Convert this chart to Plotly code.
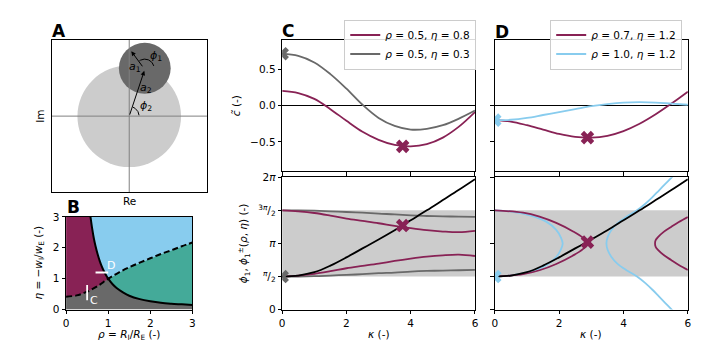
import numpy as np
import plotly.graph_objects as go

W, H = 706, 353
FONT = 'DejaVu Sans'

PURPLE = '#882255'
GREY = '#696969'
LIGHTBLUE = '#88CCEE'
TEAL = '#44AA99'
BAND = '#cccccc'

# ---- panel A: schematic in the complex plane ----
light_circle = dict(cx=0.0, cy=0.0, r=2.0)
dark_circle = dict(cx=0.6, cy=1.88, r=1.0)
a2_arrow = dict(tail=(0.0, 0.0), head=(0.58, 1.78))
a1_arrow = dict(tail=(0.55, 1.90), head=(0.08, 2.55))
phi2_arc = dict(cx=0.0, cy=0.0, r=0.38, start=5, end=68)
phi1_arc = dict(cx=0.6, cy=1.88, r=0.36, start=15, end=125)

# ---- panel B: phase diagram ----
rho_solid = [0.58, 0.62, 0.66, 0.70, 0.75, 0.80, 0.85, 0.90, 0.95, 1.00, 1.10, 1.20, 1.35,
             1.50, 1.75, 2.00, 2.25, 2.50, 2.75, 3.00]
eta_solid = [3.00, 2.62, 2.30, 2.05, 1.79, 1.57, 1.39, 1.24, 1.11, 1.00, 0.83, 0.70, 0.56,
             0.45, 0.34, 0.27, 0.22, 0.19, 0.17, 0.15]
rho_dash = [0.00, 0.25, 0.50, 0.75, 1.00, 1.25, 1.50, 1.75, 2.00, 2.25, 2.50, 2.75, 3.00]
eta_dash = [0.42, 0.46, 0.58, 0.76, 1.00, 1.20, 1.37, 1.52, 1.66, 1.80, 1.92, 2.05, 2.17]
mark_c_rho, mark_c_eta = [0.5, 0.5], [0.3, 0.8]
mark_d_rho, mark_d_eta = [0.7, 1.0], [1.2, 1.2]

# ---- panels C, D: kappa grid ----
kappa = [0, 0.5, 1, 1.5, 2, 2.5, 3, 3.5, 4, 4.5, 5, 5.5, 6]

# c~(kappa)
c_C_purple = [0.20, 0.17, 0.09, -0.05, -0.21, -0.36, -0.47, -0.54, -0.56, -0.53, -0.44, -0.29, -0.09]
c_C_grey = [0.71, 0.68, 0.59, 0.43, 0.23, 0.01, -0.17, -0.28, -0.33, -0.32, -0.27, -0.18, -0.07]
c_D_purple = [-0.20, -0.22, -0.27, -0.33, -0.39, -0.43, -0.44, -0.415, -0.35, -0.25, -0.12, 0.03, 0.19]
c_D_blue = [-0.20, -0.195, -0.17, -0.13, -0.09, -0.05, -0.01, 0.02, 0.04, 0.045, 0.04, 0.025, 0.01]

# phases, in units of pi
phi1_line = [0.5, 0.515, 0.565, 0.665, 0.79, 0.925, 1.06, 1.2, 1.35, 1.5, 1.655, 1.81, 1.97]
phi_C_purple_up = [1.5, 1.485, 1.46, 1.42, 1.375, 1.34, 1.305, 1.265, 1.23, 1.2, 1.18, 1.17, 1.19]
phi_C_purple_lo = [0.5, 0.515, 0.54, 0.58, 0.625, 0.66, 0.695, 0.735, 0.77, 0.8, 0.82, 0.83, 0.81]
phi_C_grey_up = [1.5, 1.5, 1.495, 1.485, 1.475, 1.465, 1.45, 1.44, 1.425, 1.415, 1.41, 1.405, 1.4]
phi_C_grey_lo = [0.5, 0.5, 0.505, 0.515, 0.525, 0.535, 0.55, 0.56, 0.575, 0.585, 0.59, 0.595, 0.6]

kap_D_blue1 = [0, 0.47, 1.09, 1.6, 1.91, 2.06, 2.11, 2.06, 1.91, 1.6, 1.09, 0.47, 0]
phi_D_blue1 = [1.5, 1.485, 1.425, 1.33, 1.205, 1.085, 1.0, 0.915, 0.795, 0.67, 0.575, 0.515, 0.5]
kap_D_blue2 = [5.55, 5.5, 5.3, 5.1, 4.9, 4.68, 4.42, 4.08, 3.80, 3.62, 3.51, 3.47,
               3.51, 3.62, 3.80, 4.08, 4.42, 4.68, 4.9, 5.1, 5.3, 5.5, 5.55]
phi_D_blue2 = [2.025, 2.0, 1.9, 1.8, 1.7, 1.6, 1.5, 1.4, 1.3, 1.2, 1.1, 1.0,
               0.9, 0.8, 0.7, 0.6, 0.5, 0.4, 0.3, 0.2, 0.1, 0.0, -0.025]
kap_D_purple1 = [0, 0.88, 1.39, 1.91, 2.42, 2.73, 2.9, 2.73, 2.42, 1.91, 1.39, 0.88, 0]
phi_D_purple1 = [1.5, 1.465, 1.405, 1.31, 1.185, 1.09, 1.0, 0.91, 0.815, 0.69, 0.595, 0.535, 0.5]
kap_D_purple2 = [6.0, 5.72, 5.48, 5.25, 5.08, 5.0, 4.98, 5.0, 5.08, 5.25, 5.48, 5.72, 6.0]
phi_D_purple2 = [1.4, 1.325, 1.25, 1.175, 1.1, 1.05, 1.0, 0.95, 0.9, 0.825, 0.75, 0.675, 0.6]

band = [0.5, 1.5]  # grey band, units of pi

# marked points (kappa, c~, phi/pi)
pt_C_purple = (3.75, -0.56, 1.27)
pt_C_grey = (0.0, 0.71, 0.5)
pt_D_purple = (2.88, -0.44, 1.02)
pt_D_blue = (0.0, -0.20, 0.5)

PI = np.pi


def X(v):
    return v / W


def Y(v):
    return 1 - v / H


fig = go.Figure()


def line(x, y, color, xa, ya, width=1.8, name=None, legend=None, dash=None, shape='spline'):
    fig.add_trace(go.Scatter(
        x=x, y=y, mode='lines', xaxis=xa, yaxis=ya,
        line=dict(color=color, width=width, dash=dash, shape=shape),
        name=name, showlegend=name is not None, legend=legend or 'legend',
        hoverinfo='skip'))


def marker(x, y, color, xa, ya):
    fig.add_trace(go.Scatter(
        x=[x], y=[y], mode='markers', xaxis=xa, yaxis=ya, showlegend=False,
        marker=dict(symbol='x', size=12, color=color, line_width=0), hoverinfo='skip'))


# ---- A ----
shapes = []
for c, col in [(light_circle, BAND), (dark_circle, GREY)]:
    shapes.append(dict(type='circle', xref='x', yref='y', layer='below',
                       x0=c['cx'] - c['r'], x1=c['cx'] + c['r'],
                       y0=c['cy'] - c['r'], y1=c['cy'] + c['r'],
                       fillcolor=col, line_width=0))
line([0, 0], [-3, 3], 'grey', 'x', 'y', width=1, shape='linear')
line([-3, 3], [0, 0], 'grey', 'x', 'y', width=1, shape='linear')
for arc in (phi2_arc, phi1_arc):
    t = np.radians(np.linspace(arc['start'], arc['end'], 30))
    line(arc['cx'] + arc['r'] * np.cos(t), arc['cy'] + arc['r'] * np.sin(t),
         'black', 'x', 'y', width=1, shape='linear')

annotations = []
for arr in (a2_arrow, a1_arrow):
    annotations.append(dict(xref='x', yref='y', axref='x', ayref='y',
                            x=arr['head'][0], y=arr['head'][1],
                            ax=arr['tail'][0], ay=arr['tail'][1],
                            text='', showarrow=True, arrowhead=2, arrowsize=0.9,
                            arrowwidth=1, arrowcolor='black'))
for txt, xx, yy in [('<i>a</i><sub>1</sub>', 0.22, 1.95), ('<i>a</i><sub>2</sub>', 0.64, 1.09),
                    ('<i>ϕ</i><sub>1</sub>', 1.05, 2.38), ('<i>ϕ</i><sub>2</sub>', 0.64, 0.39)]:
    annotations.append(dict(xref='x', yref='y', x=xx, y=yy, text=txt, showarrow=False,
                            font=dict(size=11, color='black')))

# ---- B ----
rs, es = np.array(rho_solid), np.array(eta_solid)
rd, ed = np.array(rho_dash), np.array(eta_dash)
sl, sr = rs <= 1, rs >= 1
dl, dr = rd <= 1, rd >= 1
regions = [
    (GREY, [0, *rd[dl], *rs[sr][1:], 3], [0, *ed[dl], *es[sr][1:], 0]),
    (PURPLE, [*rd[dl], *rs[sl][::-1][1:], 0], [*ed[dl], *es[sl][::-1][1:], 3]),
    (TEAL, [*rs[sr], *rd[dr][::-1][:-1]], [*es[sr], *ed[dr][::-1][:-1]]),
    (LIGHTBLUE, [*rs[sl], *rd[dr][1:], 3], [*es[sl], *ed[dr][1:], 3]),
]
for col, xs, ys in regions:
    fig.add_trace(go.Scatter(x=xs, y=ys, mode='lines', fill='toself', fillcolor=col,
                             line=dict(width=0.5, color=col), xaxis='x2', yaxis='y2',
                             showlegend=False, hoverinfo='skip'))
line(rho_solid, eta_solid, 'black', 'x2', 'y2', width=2)
line(rho_dash, eta_dash, 'black', 'x2', 'y2', width=2, dash='6px,3px')
line(mark_c_rho, mark_c_eta, 'white', 'x2', 'y2', width=1.8, shape='linear')
line(mark_d_rho, mark_d_eta, 'white', 'x2', 'y2', width=1.8, shape='linear')
annotations += [
    dict(xref='x2', yref='y2', x=0.665, y=0.3, text='C', showarrow=False,
         font=dict(size=11, color='white')),
    dict(xref='x2', yref='y2', x=1.06, y=1.43, text='D', showarrow=False,
         font=dict(size=11, color='white')),
]

# ---- C ----
line(kappa, c_C_purple, PURPLE, 'x3', 'y3', name='<i>ρ</i> = 0.5, <i>η</i> = 0.8')
line(kappa, c_C_grey, GREY, 'x3', 'y3', name='<i>ρ</i> = 0.5, <i>η</i> = 0.3')
marker(pt_C_purple[0], pt_C_purple[1], PURPLE, 'x3', 'y3')
marker(pt_C_grey[0], pt_C_grey[1], GREY, 'x3', 'y3')

line(kappa, np.array(phi_C_grey_up) * PI, GREY, 'x4', 'y4')
line(kappa, np.array(phi_C_grey_lo) * PI, GREY, 'x4', 'y4')
line(kappa, np.array(phi_C_purple_up) * PI, PURPLE, 'x4', 'y4')
line(kappa, np.array(phi_C_purple_lo) * PI, PURPLE, 'x4', 'y4')
line(kappa, np.array(phi1_line) * PI, 'black', 'x4', 'y4')
marker(pt_C_purple[0], pt_C_purple[2] * PI, PURPLE, 'x4', 'y4')
marker(pt_C_grey[0], pt_C_grey[2] * PI, GREY, 'x4', 'y4')

# ---- D ----
line(kappa, c_D_purple, PURPLE, 'x5', 'y5', name='<i>ρ</i> = 0.7, <i>η</i> = 1.2', legend='legend2')
line(kappa, c_D_blue, LIGHTBLUE, 'x5', 'y5', name='<i>ρ</i> = 1.0, <i>η</i> = 1.2', legend='legend2')
marker(pt_D_purple[0], pt_D_purple[1], PURPLE, 'x5', 'y5')
marker(pt_D_blue[0], pt_D_blue[1], LIGHTBLUE, 'x5', 'y5')

line(kap_D_blue1, np.array(phi_D_blue1) * PI, LIGHTBLUE, 'x6', 'y6')
line(kap_D_blue2, np.array(phi_D_blue2) * PI, LIGHTBLUE, 'x6', 'y6')
line(kap_D_purple1, np.array(phi_D_purple1) * PI, PURPLE, 'x6', 'y6')
line(kap_D_purple2, np.array(phi_D_purple2) * PI, PURPLE, 'x6', 'y6')
line(kappa, np.array(phi1_line) * PI, 'black', 'x6', 'y6')
marker(pt_D_purple[0], pt_D_purple[2] * PI, PURPLE, 'x6', 'y6')
marker(pt_D_blue[0], pt_D_blue[2] * PI, LIGHTBLUE, 'x6', 'y6')

for xr, yr in [('x4', 'y4'), ('x6', 'y6')]:
    shapes.append(dict(type='rect', xref=xr + ' domain', yref=yr, x0=0, x1=1,
                       y0=band[0] * PI, y1=band[1] * PI, fillcolor=BAND,
                       line_width=0, layer='below'))

# ---- axes ----
ax = dict(showline=True, linecolor='black', linewidth=1, mirror=True, ticks='outside',
          ticklen=3.5, tickwidth=0.8, tickcolor='black', showgrid=False, zeroline=False,
          tickfont=dict(size=10.5, color='black'))
none = dict(showticklabels=False, ticks='')
phi_vals = [0, PI / 2, PI, 3 * PI / 2, 2 * PI]
phi_text = ['0', '<sup><i>π</i></sup>/<sub>2</sub>', '<i>π</i>',
            '<sup>3<i>π</i></sup>/<sub>2</sub>', '2<i>π</i>']
c_vals = [-0.5, 0, 0.5]
c_text = ['−0.5', '0.0', '0.5']
k_vals = [0, 2, 4, 6]

xC, xD = [282, 476.7], [496.7, 691.7]
yTop, yBot = [171, 35], [314.3, 177.3]

fig.update_layout(
    xaxis=dict(ax, **none, domain=[X(49), X(206)], range=[-3, 3], anchor='y'),
    yaxis=dict(ax, **none, domain=[Y(193), Y(35)], range=[-3, 3], anchor='x'),
    xaxis2=dict(ax, domain=[X(63.7), X(191.3)], range=[0, 3], tickvals=[0, 1, 2, 3], anchor='y2'),
    yaxis2=dict(ax, domain=[Y(314.3), Y(218.3)], range=[0, 3], tickvals=[0, 1, 2, 3], anchor='x2'),
    xaxis3=dict(ax, domain=[X(xC[0]), X(xC[1])], range=[0, 6], tickvals=k_vals,
                showticklabels=False, anchor='y3'),
    yaxis3=dict(ax, domain=[Y(yTop[0]), Y(yTop[1])], range=[-0.9, 0.9], tickvals=c_vals,
                ticktext=c_text, zeroline=True, zerolinecolor='black', zerolinewidth=0.8,
                anchor='x3'),
    xaxis4=dict(ax, domain=[X(xC[0]), X(xC[1])], range=[0, 6], tickvals=k_vals, anchor='y4'),
    yaxis4=dict(ax, domain=[Y(yBot[0]), Y(yBot[1])], range=[0, 2 * PI], tickvals=phi_vals,
                ticktext=phi_text, anchor='x4'),
    xaxis5=dict(ax, domain=[X(xD[0]), X(xD[1])], range=[0, 6], tickvals=k_vals,
                showticklabels=False, anchor='y5'),
    yaxis5=dict(ax, domain=[Y(yTop[0]), Y(yTop[1])], range=[-0.9, 0.9], tickvals=c_vals,
                showticklabels=False, zeroline=True, zerolinecolor='black', zerolinewidth=0.8,
                anchor='x5'),
    xaxis6=dict(ax, domain=[X(xD[0]), X(xD[1])], range=[0, 6], tickvals=k_vals, anchor='y6'),
    yaxis6=dict(ax, domain=[Y(yBot[0]), Y(yBot[1])], range=[0, 2 * PI], tickvals=phi_vals,
                showticklabels=False, anchor='x6'),
)

leg = dict(xanchor='right', yanchor='top', bgcolor='rgba(255,255,255,0.85)',
           bordercolor='#cccccc', borderwidth=1, font=dict(size=10.5, color='black'),
           itemwidth=30, tracegroupgap=0)
fig.update_layout(
    legend=dict(leg, x=X(478), y=Y(14)),
    legend2=dict(leg, x=X(686), y=Y(14)),
)

# axis titles and panel letters
titles = [
    ('Im', 37, 114, -90),
    ('Re', 128, 202, 0),
    ('<i>η</i> = −<i>w</i><sub>I</sub>/<i>w</i><sub>E</sub> (-)', 36, 266, -90),
    ('<i>ρ</i> = <i>R</i><sub>I</sub>/<i>R</i><sub>E</sub> (-)', 127, 341, 0),
    ('<i>c̃</i> (-)', 236, 103, -90),
    ('<i>ϕ</i><sub>1</sub>, <i>ϕ</i><sub>1</sub><sup>±</sup>(<i>ρ</i>, <i>η</i>) (-)', 243, 246, -90),
    ('<i>κ</i> (-)', 380, 340, 0),
    ('<i>κ</i> (-)', 594, 340, 0),
]
for txt, xx, yy, ang in titles:
    annotations.append(dict(xref='paper', yref='paper', x=X(xx), y=Y(yy), text=txt,
                            textangle=ang, showarrow=False, xanchor='center', yanchor='middle',
                            font=dict(size=10.5, color='black')))
for txt, xx, yy in [('A', 56.5, 25.5), ('B', 71, 208), ('C', 288, 26), ('D', 503.5, 27)]:
    annotations.append(dict(xref='paper', yref='paper', x=X(xx), y=Y(yy), text=f'<b>{txt}</b>',
                            showarrow=False, xanchor='center', yanchor='middle',
                            font=dict(size=17, color='black')))

fig.update_layout(
    width=W, height=H, margin=dict(l=0, r=0, t=0, b=0),
    paper_bgcolor='white', plot_bgcolor='rgba(0,0,0,0)',
    font=dict(family=FONT, size=10.5, color='black'),
    shapes=shapes, annotations=annotations,
)

fig.write_html('out.html', config={'displayModeBar': False},
               post_script="document.body.style.margin = '0px';")
